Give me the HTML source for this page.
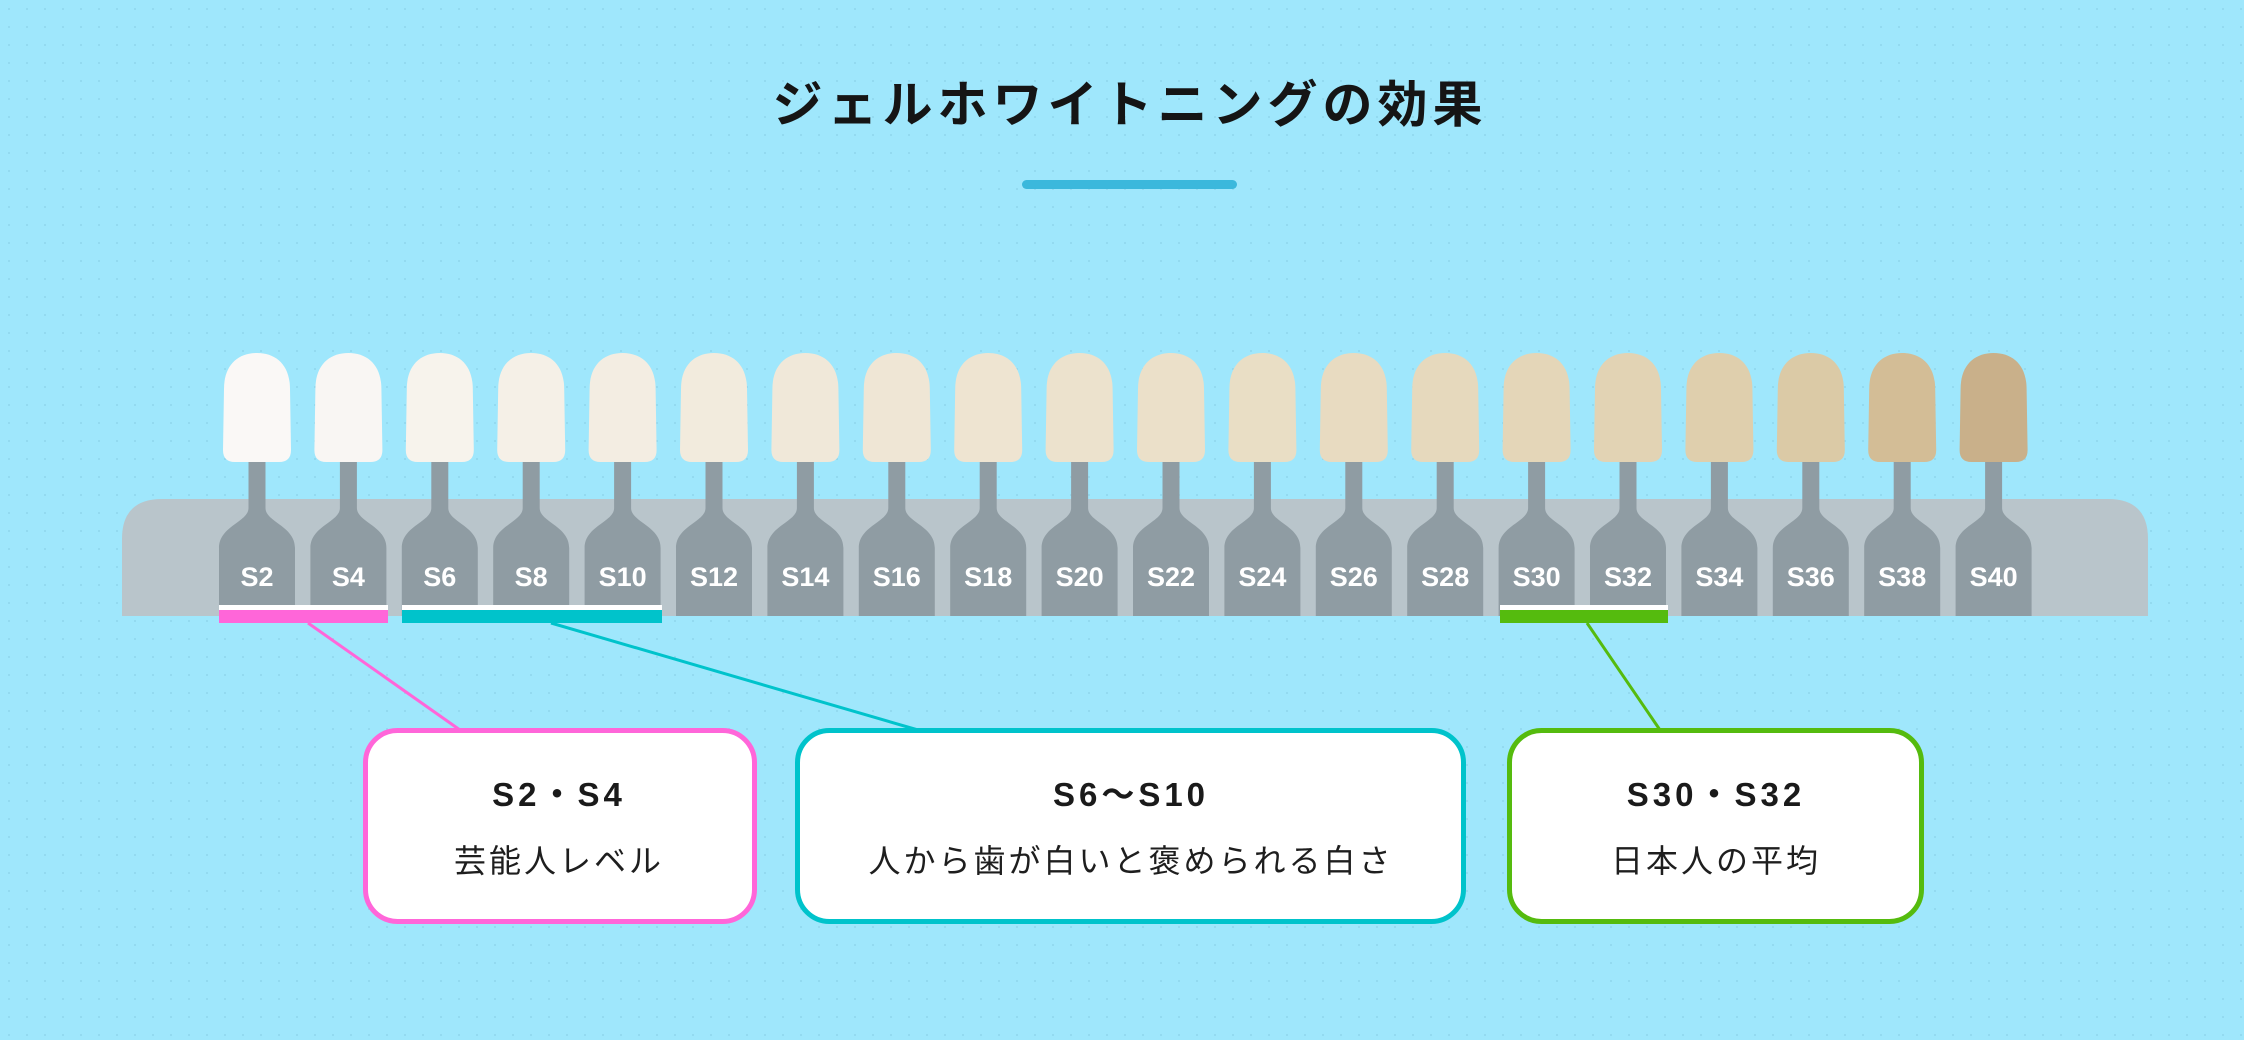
<!DOCTYPE html>
<html><head><meta charset="utf-8"><style>
html,body{margin:0;padding:0;}
body{width:2244px;height:1040px;overflow:hidden;background:#9fe7fc;}
svg{display:block;}
.lb{font-family:"Liberation Sans Narrow","Liberation Sans",sans-serif;font-weight:bold;font-size:27px;fill:#fff;text-anchor:middle;}
.t1{font-family:"Liberation Sans","Noto Sans CJK JP",sans-serif;font-size:33px;fill:#1a1a1a;text-anchor:middle;letter-spacing:4px;font-weight:bold;}
.t2{font-family:"Liberation Sans","Noto Sans CJK JP",sans-serif;font-size:32px;fill:#1e1e1e;text-anchor:middle;letter-spacing:3px;}
</style></head><body>
<svg width="2244" height="1040" viewBox="0 0 2244 1040" xmlns="http://www.w3.org/2000/svg">
<defs>
<pattern id="dots" width="18" height="18" patternUnits="userSpaceOnUse"><circle cx="9" cy="9" r="1" fill="#8fd6ec"/></pattern>
<path id="tooth" d="M -34,97 L -33,36 C -33,12 -19,0 0,0 C 19,0 33,12 33,36 L 34,97 Q 34,109 22,109 H -22 Q -34,109 -34,97 Z"/>
<path id="handle" d="M -8.5,455 V 508 C -8.5,522 -38,526 -38,548 V 616 H 38 V 548 C 38,526 8.5,522 8.5,508 V 455 Z"/>
</defs>
<rect width="2244" height="1040" fill="#9fe7fc"/>
<rect width="2244" height="1040" fill="url(#dots)"/>
<text x="1130" y="122" font-family="'Liberation Sans','Noto Sans CJK JP',sans-serif" font-size="50" font-weight="bold" fill="#151515" text-anchor="middle" letter-spacing="5">ジェルホワイトニングの効果</text>
<rect x="1022" y="180" width="215" height="9" rx="4.5" fill="#3bb8dc"/>
<path d="M122,616 V539 Q122,499 162,499 H2108 Q2148,499 2148,539 V616 Z" fill="#b9c5cb"/>
<g fill="#8f9ca3">
<use href="#handle" x="257"/><use href="#handle" x="348.4"/><use href="#handle" x="439.8"/><use href="#handle" x="531.2"/><use href="#handle" x="622.6"/><use href="#handle" x="714"/><use href="#handle" x="805.4"/><use href="#handle" x="896.8"/><use href="#handle" x="988.2"/><use href="#handle" x="1079.6"/><use href="#handle" x="1171"/><use href="#handle" x="1262.4"/><use href="#handle" x="1353.8"/><use href="#handle" x="1445.2"/><use href="#handle" x="1536.6"/><use href="#handle" x="1628"/><use href="#handle" x="1719.4"/><use href="#handle" x="1810.8"/><use href="#handle" x="1902.2"/><use href="#handle" x="1993.6"/>
</g>
<use href="#tooth" x="257" y="353" fill="#faf8f6"/>
<use href="#tooth" x="348.4" y="353" fill="#f9f6f3"/>
<use href="#tooth" x="439.8" y="353" fill="#f7f3ec"/>
<use href="#tooth" x="531.2" y="353" fill="#f5f0e7"/>
<use href="#tooth" x="622.6" y="353" fill="#f3ede2"/>
<use href="#tooth" x="714" y="353" fill="#f2ebdd"/>
<use href="#tooth" x="805.4" y="353" fill="#f0e8d9"/>
<use href="#tooth" x="896.8" y="353" fill="#efe6d5"/>
<use href="#tooth" x="988.2" y="353" fill="#eee4d1"/>
<use href="#tooth" x="1079.6" y="353" fill="#ece2cd"/>
<use href="#tooth" x="1171" y="353" fill="#ebe0c9"/>
<use href="#tooth" x="1262.4" y="353" fill="#e9dec5"/>
<use href="#tooth" x="1353.8" y="353" fill="#e8dbc1"/>
<use href="#tooth" x="1445.2" y="353" fill="#e6d9bd"/>
<use href="#tooth" x="1536.6" y="353" fill="#e4d6b8"/>
<use href="#tooth" x="1628" y="353" fill="#e2d3b4"/>
<use href="#tooth" x="1719.4" y="353" fill="#dfcfad"/>
<use href="#tooth" x="1810.8" y="353" fill="#dbcaa6"/>
<use href="#tooth" x="1902.2" y="353" fill="#d3bd96"/>
<use href="#tooth" x="1993.6" y="353" fill="#c9b08a"/>
<g class="lb">
<text x="257" y="586">S2</text><text x="348.4" y="586">S4</text><text x="439.8" y="586">S6</text><text x="531.2" y="586">S8</text><text x="622.6" y="586">S10</text><text x="714" y="586">S12</text><text x="805.4" y="586">S14</text><text x="896.8" y="586">S16</text><text x="988.2" y="586">S18</text><text x="1079.6" y="586">S20</text><text x="1171" y="586">S22</text><text x="1262.4" y="586">S24</text><text x="1353.8" y="586">S26</text><text x="1445.2" y="586">S28</text><text x="1536.6" y="586">S30</text><text x="1628" y="586">S32</text><text x="1719.4" y="586">S34</text><text x="1810.8" y="586">S36</text><text x="1902.2" y="586">S38</text><text x="1993.6" y="586">S40</text>
</g>
<rect x="219" y="605" width="169" height="5" fill="#fff"/><rect x="219" y="610" width="169" height="13" fill="#ff66d9"/>
<rect x="402" y="605" width="260" height="5" fill="#fff"/><rect x="402" y="610" width="260" height="13" fill="#00c3cb"/>
<rect x="1500" y="605" width="168" height="5" fill="#fff"/><rect x="1500" y="610" width="168" height="13" fill="#55bb0e"/>
<line x1="308" y1="623" x2="460" y2="730" stroke="#ff66d9" stroke-width="3"/>
<line x1="551" y1="623" x2="918" y2="730" stroke="#00c3cb" stroke-width="3"/>
<line x1="1587" y1="623" x2="1660" y2="730" stroke="#55bb0e" stroke-width="3"/>
<rect x="365.5" y="730.5" width="389" height="191" rx="32" fill="#fff" stroke="#ff66d9" stroke-width="5"/>
<rect x="797.5" y="730.5" width="666" height="191" rx="32" fill="#fff" stroke="#00c3cb" stroke-width="5"/>
<rect x="1509.5" y="730.5" width="412" height="191" rx="32" fill="#fff" stroke="#55bb0e" stroke-width="5"/>
<text class="t1" x="559" y="806">S2・S4</text>
<text class="t2" x="559" y="872">芸能人レベル</text>
<text class="t1" x="1131" y="806">S6〜S10</text>
<text class="t2" x="1131" y="872">人から歯が白いと褒められる白さ</text>
<text class="t1" x="1716" y="806">S30・S32</text>
<text class="t2" x="1716" y="872">日本人の平均</text>
</svg>
</body></html>
